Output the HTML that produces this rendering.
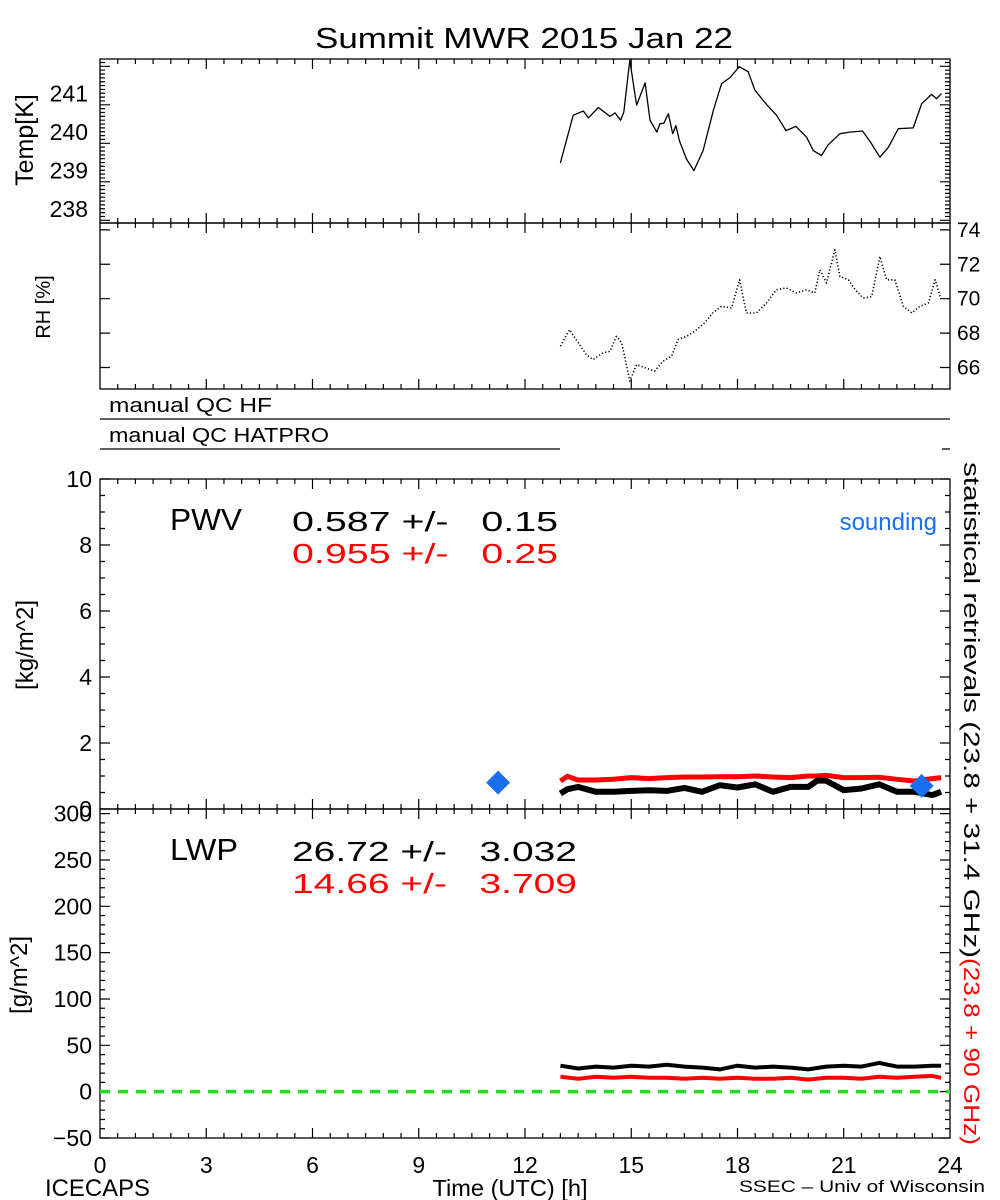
<!DOCTYPE html>
<html><head><meta charset="utf-8"><style>
html,body{margin:0;padding:0;background:#fff;}
svg{display:block;font-family:"Liberation Sans",sans-serif;}
text{white-space:pre;}
</style></head><body>
<svg id="chart" width="1000" height="1200" viewBox="0 0 1000 1200" xmlns="http://www.w3.org/2000/svg">
<rect width="1000" height="1200" fill="#fff"/>
<text x="315" y="48" font-size="29" textLength="418" lengthAdjust="spacingAndGlyphs">Summit MWR 2015 Jan 22</text>
<g id="g"></g>
</svg>
<script>
// ---- data ----
const xTickLabels = ["0","3","6","9","12","15","18","21","24"];
const tempHours = [13.0,13.36,13.65,13.79,14.07,14.40,14.54,14.70,14.79,14.96,15.15,15.39,15.53,15.72,15.81,15.92,16.05,16.17,16.26,16.36,16.56,16.77,17.03,17.32,17.55,17.79,18.05,18.30,18.49,18.82,19.10,19.37,19.65,19.95,20.14,20.37,20.56,20.89,21.17,21.53,21.74,22.02,22.26,22.54,22.96,23.20,23.48,23.62,23.76];
const tempValues = [239.19,240.43,240.54,240.36,240.63,240.40,240.49,240.30,240.51,241.86,240.69,241.27,240.30,239.99,240.21,240.22,240.47,239.95,240.16,239.77,239.29,238.99,239.51,240.56,241.25,241.41,241.69,241.56,241.08,240.71,240.43,240.03,240.14,239.86,239.51,239.38,239.66,239.95,239.99,240.02,239.75,239.34,239.60,240.08,240.10,240.73,240.97,240.86,240.99];
const tempTickLabels = ["238","239","240","241"];
const rhHours = [13.0,13.26,13.45,13.73,13.92,14.20,14.40,14.58,14.73,14.96,15.15,15.39,15.66,15.90,16.14,16.32,16.56,16.79,17.07,17.30,17.55,17.83,18.06,18.25,18.53,18.82,19.10,19.38,19.66,19.95,20.18,20.33,20.51,20.75,20.89,21.13,21.32,21.55,21.79,22.02,22.21,22.44,22.68,22.92,23.15,23.39,23.58,23.72];
const rhValues = [67.24,68.2,67.6,66.75,66.46,66.85,66.94,67.81,67.43,65.21,66.17,65.98,65.79,66.37,66.66,67.62,67.81,68.10,68.59,69.17,69.56,69.46,71.1,69.17,69.17,69.75,70.52,70.62,70.33,70.52,70.33,71.68,70.91,72.84,71.29,71.1,70.52,70.04,70.13,72.45,71.1,71.1,69.56,69.17,69.56,69.75,71.1,70.13];
const rhTickLabels = ["66","68","70","72","74"];
const pwvHours = [13.0,13.2,13.5,14.0,14.5,15.0,15.5,16.0,16.5,17.0,17.5,18.0,18.5,19.0,19.5,20.0,20.25,20.5,21.0,21.5,22.0,22.5,23.0,23.5,23.75];
const pwvBlack = [0.47,0.6,0.67,0.52,0.52,0.55,0.57,0.55,0.64,0.52,0.72,0.65,0.75,0.52,0.67,0.67,0.86,0.86,0.57,0.62,0.75,0.52,0.52,0.42,0.52];
const pwvRed = [0.85,0.99,0.88,0.88,0.9,0.95,0.92,0.95,0.97,0.97,0.98,0.98,1.0,0.97,0.95,1.0,1.0,1.02,0.95,0.95,0.96,0.9,0.85,0.92,0.95];
const pwvTickLabels = ["0","2","4","6","8","10"];
const soundingHours = [11.24,23.2];
const soundingPwv = [0.8,0.7];
const lwpHours = [13.0,13.5,14.0,14.5,15.0,15.5,16.0,16.5,17.0,17.5,18.0,18.5,19.0,19.5,20.0,20.5,21.0,21.5,22.0,22.5,23.0,23.5,23.75];
const lwpBlack = [28,25,27,26,28,27,29,27,26,24,28,26,27,26,24,27,28,27,31,27,27,28,28];
const lwpRed = [16,14,16,15,16,15,15,14,15,14,15,14,14,15,13,15,15,14,16,15,16,17,15];
const lwpTickLabels = ["-50","0","50","100","150","200","250","300"];

// ---- layout ----
const X0=100, X1=950;
const P = {
  temp:{top:59,bot:223,min:237.63,max:241.89},
  rh:{top:223,bot:389,min:64.75,max:74.4},
  pwv:{top:479,bot:809,min:0,max:10},
  lwp:{top:809,bot:1138,min:-50,max:305}
};
const xs = h => X0 + h*(X1-X0)/24;
const ys = (p,v) => p.bot - (v-p.min)*(p.bot-p.top)/(p.max-p.min);
const NS="http://www.w3.org/2000/svg";
const G=document.getElementById('g');
function mk(tag,attrs,parent){const e=document.createElementNS(NS,tag);for(const k in attrs)e.setAttribute(k,attrs[k]);(parent||G).appendChild(e);return e;}
function txt(s,x,y,size,attrs){const t=mk('text',Object.assign({x:x,y:y,'font-size':size},attrs||{}));t.textContent=s;return t;}

for(const key of ['temp','rh','pwv','lwp']){
  const p=P[key];
  const r=mk('rect',{x:X0,y:p.top,width:X1-X0,height:p.bot-p.top,fill:'none',stroke:'#000','stroke-width':1.3});
  
  
  let d='';
  for(let i=1;i<48;i++){const x=xs(i/2);const L=(i%6===0)?10:5;d+=`M${x},${p.bot}v${-L}M${x},${p.top}v${L}`;}
  const tk=mk('path',{d:d,stroke:'#000','stroke-width':1.2,fill:'none'});
  
  
}
function yTicks(p,name,minorStep,majorStep,start){
  let d='';
  for(let v=start; v<=p.max+1e-6; v+=minorStep){
    if(v<p.min-1e-6) continue;
    const y=ys(p,v); const isMaj=Math.abs((v-start)/majorStep-Math.round((v-start)/majorStep))<1e-6;
    const L=isMaj?10:5;
    d+=`M${X0},${y}h${L}M${X1},${y}h${-L}`;
  }
  const e=mk('path',{d:d,stroke:'#000','stroke-width':1.2,fill:'none'});
  
  
}
yTicks(P.temp,'temp-y-ticks',0.1,1,237.7);
yTicks(P.rh,'rh-y-ticks',2,2,66);
yTicks(P.pwv,'pwv-y-ticks',0.5,2,0);
yTicks(P.lwp,'lwp-y-ticks',10,50,-50);

tempTickLabels.forEach(s=>{const t=txt(s,88,ys(P.temp,+s)+8,23,{'text-anchor':'end'});
  
  });
rhTickLabels.forEach(s=>{const t=txt(s,957,ys(P.rh,+s)+7,21,{});
  
  });
pwvTickLabels.forEach(s=>{const t=txt(s,92,ys(P.pwv,+s)+8,23,{'text-anchor':'end'});
  
  });
lwpTickLabels.forEach(s=>{const t=txt(s.replace('-','\u2212'),92,ys(P.lwp,+s)+8,23,{'text-anchor':'end'});
  
  });
xTickLabels.forEach(s=>{const t=txt(s,xs(+s),1173,23,{'text-anchor':'middle'});
  
  });

function rot(s,x,y,size,name,color){const t=txt(s,x,y,size,{'text-anchor':'middle',transform:`rotate(-90 ${x} ${y})`,fill:color||'#000'});
  
  }
rot('Temp[K]',33,140,25,'temp-axis-title');
rot('RH [%]',50,307,20,'rh-axis-title');
rot('[kg/m^2]',33,645,24,'pwv-axis-title');
rot('[g/m^2]',27,975,24,'lwp-axis-title');

{const t=mk('text',{x:0,y:0,'font-size':22,transform:'translate(964,462) rotate(90)'});
 
 
 const a=mk('tspan',{fill:'#000',textLength:496,lengthAdjust:'spacingAndGlyphs'},t);a.textContent='statistical retrievals (23.8 + 31.4 GHz)';
 const b=mk('tspan',{fill:'#f00',textLength:187,lengthAdjust:'spacingAndGlyphs'},t);b.textContent='(23.8 + 90 GHz)';}

{const l1=mk('line',{x1:X0,y1:419,x2:X1,y2:419,stroke:'#000','stroke-width':1.3});
 
 
 const l2=mk('line',{x1:X0,y1:449,x2:560,y2:449,stroke:'#000','stroke-width':1.3});
 
 
 const l3=mk('line',{x1:942,y1:449,x2:X1,y2:449,stroke:'#000','stroke-width':1.3});
 
 
 const a=txt('manual QC HF',109,412,20,{textLength:163,lengthAdjust:'spacingAndGlyphs'});
 
 
 const b=txt('manual QC HATPRO',109,442,20,{textLength:220,lengthAdjust:'spacingAndGlyphs'});
 
 }

function line(hours,vals,p,color,w,name,dash){
  const pts=hours.map((h,i)=>xs(h).toFixed(1)+','+ys(p,vals[i]).toFixed(1)).join(' ');
  const a={points:pts,fill:'none',stroke:color,'stroke-width':w,'stroke-linejoin':'round'};
  if(dash)a['stroke-dasharray']=dash;
  const e=mk('polyline',a);
  
  
}
line(tempHours,tempValues,P.temp,'#000',1.3,'temp-series');
line(rhHours,rhValues,P.rh,'#000',1.6,'rh-series','1.2 2.2');
line(pwvHours,pwvRed,P.pwv,'#f00',5,'pwv-red-series');
line(pwvHours,pwvBlack,P.pwv,'#000',6,'pwv-black-series');
line(lwpHours,lwpBlack,P.lwp,'#000',4,'lwp-black-series');
line(lwpHours,lwpRed,P.lwp,'#f00',4,'lwp-red-series');
{const z=mk('line',{x1:X0,y1:ys(P.lwp,0),x2:X1,y2:ys(P.lwp,0),stroke:'#22dd22','stroke-width':3.5,'stroke-dasharray':'10 8'});
 
 }
soundingHours.forEach((h,i)=>{const x=xs(h),y=ys(P.pwv,soundingPwv[i]);
  const d=mk('polygon',{points:`${x},${y-12} ${x+12},${y} ${x},${y+12} ${x-12},${y}`,fill:'#1a6ff0'});
  
  });

function ann(s,x,y,size,color,name,anchor,len){const a={fill:color,'text-anchor':anchor||'start'};
  if(len){a.textLength=len;a.lengthAdjust='spacingAndGlyphs';}
  const t=txt(s,x,y,size,a);
  
  }
ann('PWV',170,530,31,'#000','pwv-label','start',72);
ann('0.587 +/-   0.15',292,531,28,'#000','pwv-black-stats','start',266);
ann('0.955 +/-   0.25',292,563,28,'#f00','pwv-red-stats','start',266);
ann('sounding',937,530,24,'#1a6ff0','sounding-legend','end');
ann('LWP',170,860,31,'#000','lwp-label','start',68);
ann('26.72 +/-   3.032',292,861,28,'#000','lwp-black-stats','start',285);
ann('14.66 +/-   3.709',292,893,28,'#f00','lwp-red-stats','start',285);
ann('ICECAPS',45,1196,24,'#000','icecaps-label','start',105);
ann('Time (UTC) [h]',510,1196,23,'#000','x-axis-title','middle',155);
ann('SSEC \u2013 Univ of Wisconsin',985,1192,17,'#000','ssec-credit','end',246);
</script>
</body></html>
